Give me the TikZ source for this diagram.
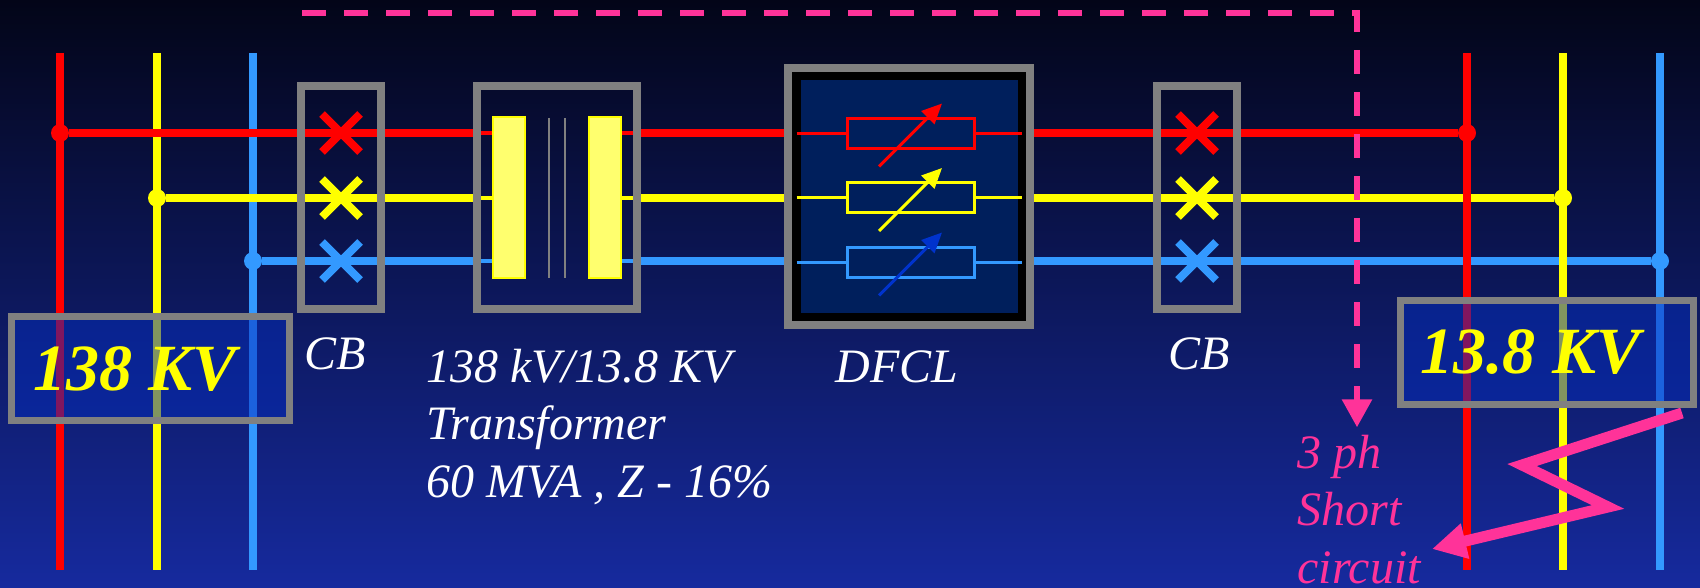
\documentclass[tikz,border=0pt]{standalone}
\usepackage{fontspec}
\setmainfont{Liberation Serif}
\usetikzlibrary{positioning,arrows.meta,shapes.misc}
\pgfdeclarelayer{wires}
\pgfsetlayers{wires,main}

\definecolor{phR}{RGB}{255,0,0}
\definecolor{phY}{RGB}{255,255,0}
\definecolor{phB}{RGB}{51,153,255}
\definecolor{frame}{RGB}{128,128,128}
\definecolor{bgtop}{RGB}{3,5,24}
\definecolor{bgbot}{RGB}{22,42,158}
\definecolor{kvfill}{RGB}{5,45,190}
\definecolor{coilfill}{RGB}{255,255,110}
\definecolor{dfclin}{RGB}{0,31,92}
\definecolor{fault}{RGB}{255,51,153}
\definecolor{deepblue}{RGB}{0,51,204}

\begin{document}
\begin{tikzpicture}[x=0.5pt, y=-0.5pt,
    bus/.style={line width=4pt},
    tap/.style={line width=2pt},
    joint/.style={circle, fill, inner sep=0pt, minimum size=9pt},
    frm/.style={draw=frame, line width=4pt, inner sep=0pt},
    cb/.style={frm, minimum width=40pt, minimum height=111.5pt},
    brk/.style={cross out, line width=4pt, minimum size=15pt, inner sep=0pt},
    coil/.style={draw=phY, line width=1pt, fill=coilfill, minimum width=16pt, minimum height=80.5pt, inner sep=0pt},
    res/.style={draw, line width=1.5pt, minimum width=63.5pt, minimum height=15pt, inner sep=0pt},
    adj/.style={line width=1.5pt, -{Triangle[length=10pt,width=9pt]}},
    kvbox/.style={draw=frame, line width=3.5pt, fill=kvfill, fill opacity=0.5, minimum height=52pt},
    kvtxt/.style={text=phY, font=\bfseries\itshape\fontsize{33}{36}\selectfont, inner sep=0pt},
    lbl/.style={text=white, font=\itshape\fontsize{24}{28.75}\selectfont, inner sep=0pt, align=left},
  ]
  \useasboundingbox (0,0) rectangle (1700,588);

  % junctions on the buses
  \node[joint, phR] (rA) at (60,133) {};
  \node[joint, phY] (yA) at (157,198) {};
  \node[joint, phB] (bA) at (253,261) {};
  \node[joint, phR] (rZ) at (1467,133) {};
  \node[joint, phY] (yZ) at (1563,198) {};
  \node[joint, phB] (bZ) at (1660,261) {};

  % breakers, transformer, limiter
  \node[cb] (cbL) at (341,197.5) {};
  \node[cb] (cbR) at (1197,197.5) {};
  \node[frm, minimum width=80pt, minimum height=111.5pt] (xfmr) at (557,197.5) {};
  \node[frm, fill=black, minimum width=121pt, minimum height=128.5pt] (dfcl) at (909,196.5) {};
  \node[fill=dfclin, inner sep=0pt, minimum width=108.5pt, minimum height=116.5pt] (core) at (909.5,196.5) {};

  \begin{pgfonlayer}{wires}
    \shade[top color=bgtop, bottom color=bgbot] (0,0) rectangle (1700,588);
    \foreach \p/\x/\c in {rL/60/phR, yL/157/phY, bL/253/phB} {
      \coordinate (\p1) at (\x,53);
      \coordinate (\p2) at (\x,570);
      \draw[bus, \c] (\p1) -- (\p2);
    }
    \foreach \ph/\c in {r/phR, y/phY, b/phB} {
      \draw[bus, \c] (\ph A) -- (\ph A -| xfmr.west);
      \draw[bus, \c] (\ph A -| xfmr.east) -- (\ph A -| dfcl.west);
      \draw[bus, \c] (\ph A -| dfcl.east) -- (\ph Z);
    }
    \foreach \p/\x/\c in {rR/1467/phR, yR/1563/phY, bR/1660/phB} {
      \coordinate (\p1) at (\x,53);
      \coordinate (\p2) at (\x,570);
      \draw[bus, \c] (\p1) -- (\p2);
    }
  \end{pgfonlayer}

  % transformer windings
  \node[coil] (coilA) at (509,197.5) {};
  \node[coil] (coilB) at (605,197.5) {};
  \foreach \ph/\c in {r/phR, y/phY, b/phB} {
    \draw[tap, \c, shorten <=4pt] (\ph A -| xfmr.west) -- (\ph A -| coilA.west);
    \draw[tap, \c, shorten >=4pt] (\ph A -| coilB.east) -- (\ph A -| xfmr.east);
  }
  \draw[frame, line width=1pt] (549,118) -- (549,278);
  \draw[frame, line width=1pt] (565,118) -- (565,278);

  % variable resistors
  \node[res, phR] (resR) at (911,133.5) {};
  \node[res, phY] (resY) at (911,198) {};
  \node[res, phB] (resB) at (911,262.5) {};
  \foreach \r/\c/\a in {resR/phR/phR, resY/phY/phY, resB/phB/deepblue} {
    \draw[line width=1.5pt, \c] ([xshift=-2pt]\r.west -| core.west) -- (\r.west);
    \draw[line width=1.5pt, \c] (\r.east) -- ([xshift=2pt]\r.east -| core.east);
    \draw[adj, \a] ([shift={(-32,33)}]\r.center) -- ([shift={(31,-30)}]\r.center);
  }

  % breaker contacts
  \foreach \ph/\c in {r/phR, y/phY, b/phB} {
    \node[brk, draw=\c] (xL\ph) at (\ph A -| cbL) {};
    \node[brk, draw=\c] (xR\ph) at (\ph A -| cbR) {};
  }

  % bus voltage boxes
  \node[kvbox, minimum width=139pt] (kvL) at (150.5,368.5) {};
  \node[kvbox, minimum width=146.5pt] (kvR) at (1547,352.5) {};
  \node[kvtxt, anchor=base west] (kvLtxt) at (33,390) {138 KV};
  \node[kvtxt, anchor=base west] (kvRtxt) at (1420,373) {13.8 KV};

  % labels
  \node[lbl, below=12pt of cbL, xshift=-3pt] (cbLtxt) {CB};
  \node[lbl, below=12pt of cbR, xshift=1pt] (cbRtxt) {CB};
  \node[lbl, below=10.5pt of dfcl, xshift=-6pt] (dfclTxt) {DFCL};
  \node[lbl, anchor=base west] (xfmrTxt) at (426,497) {138 kV/13.8 KV\\Transformer\\60 MVA , Z - 16\%};
  \node[lbl, text=fault, anchor=base west] (scTxt) at (1297,583) {3 ph\\Short\\circuit};

  % fault path
  \coordinate (fltA) at (302,13);
  \coordinate (fltB) at (1357,13);
  \draw[fault, line width=3pt, dash pattern=on 12pt off 9pt, shorten >=3.5pt,
    -{Triangle[width=14.5pt,length=14pt]}] (fltA) -- (fltB) -- (fltB |- scTxt.north);
  \coordinate (zzA) at (1682,413);
  \coordinate (zzB) at (1522,465);
  \coordinate (zzC) at (1608,507);
  \coordinate (zzD) at (1432,549);
  \draw[fault, line width=5.5pt, -{Triangle[width=17pt,length=17pt]}] (zzA) -- (zzB) -- (zzC) -- (zzD);
\end{tikzpicture}
\end{document}
